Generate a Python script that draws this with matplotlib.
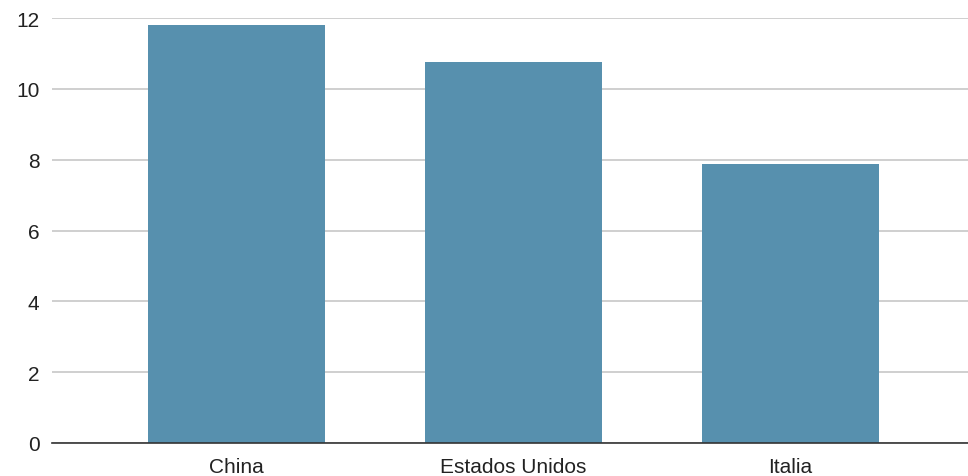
import matplotlib.pyplot as plt
plt.switch_backend('agg')
import numpy as np
from matplotlib import rc

rc('font', family=['Liberation Sans', 'DejaVu Sans'], size=15)

countries = ['China', 'Estados Unidos', 'Italia']
values = [11.79, 10.75, 7.88]
yticks = [0, 2, 4, 6, 8, 10, 12]

fig = plt.figure(figsize=(9.68, 4.77), dpi=100)
ax = fig.add_axes([52/968, 33/477, 1 - 52/968, (444 - 19)/477])

x = np.arange(len(countries))
ax.bar(x, values, width=0.64, color='#5790ae', zorder=3)

ax.set_xlim(-0.665, 2.64)
ax.set_ylim(0, 12)
ax.set_xticks(x)
ax.set_xticklabels(countries)
ax.set_yticks(yticks)
ax.grid(axis='y', color='#cccccc', linewidth=1.3, zorder=0)
for s in ['top', 'right', 'left']:
    ax.spines[s].set_visible(False)
ax.spines['bottom'].set_color('#333333')
ax.spines['bottom'].set_linewidth(1.2)
ax.spines['bottom'].set_zorder(4)
ax.tick_params(axis='both', length=0, colors='#222222')
ax.tick_params(axis='y', pad=9)
ax.tick_params(axis='x', pad=10)

plt.savefig('out.png', dpi=100)
plt.close()
